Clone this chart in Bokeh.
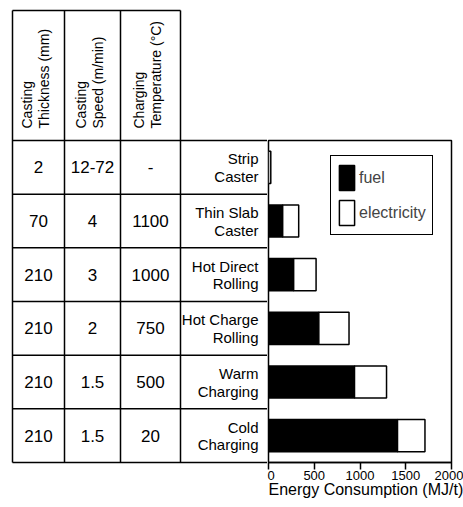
import math
from bokeh.plotting import figure
from bokeh.layouts import row
from bokeh.models import Range1d, FactorRange, FixedTicker, Legend, LegendItem, ColumnDataSource, Title
from bokeh.core.properties import value
from bokeh.embed import file_html
from bokeh.resources import INLINE

# ---------------- data ----------------
processes = ["Strip Caster", "Thin Slab Caster", "Hot Direct Rolling",
             "Hot Charge Rolling", "Warm Charging", "Cold Charging"]
process_line1 = ["Strip", "Thin Slab", "Hot Direct", "Hot Charge", "Warm", "Cold"]
process_line2 = ["Caster", "Caster", "Rolling", "Rolling", "Charging", "Charging"]
thickness = ["2", "70", "210", "210", "210", "210"]
speed = ["12-72", "4", "3", "2", "1.5", "1.5"]
temperature = ["-", "1100", "1000", "750", "500", "20"]
fuel = [0, 155, 275, 550, 940, 1410]
electricity = [25, 175, 245, 330, 350, 300]
x_ticks = [0, 500, 1000, 1500, 2000]
header_line1 = ["Casting", "Casting", "Charging"]
header_line2 = ["Thickness (mm)", "Speed (m/min)", "Temperature (\u00b0C)"]
series_names = ["fuel", "electricity"]
x_label = "Energy Consumption (MJ/t)"

# ---------------- layout / style ----------------
FONT = "Liberation Sans"
W, H = 463, 507
TABLE_W = 267
FRAME_TOP, FRAME_BOT = 140, 462
TABLE_TOP = 10
COLS = [12, 64, 120, 180, 268]
LW = 1.5
n = len(processes)
row_h = (FRAME_BOT - FRAME_TOP) / n

# ---------------- table figure ----------------
t = figure(width=TABLE_W, height=H, x_range=Range1d(0, TABLE_W), y_range=Range1d(H, 0),
           x_axis_location=None, y_axis_location=None, output_backend="svg",
           toolbar_location=None, min_border=0, outline_line_color=None)
t.frame_align = False
t.xgrid.visible = False
t.ygrid.visible = False

x0s, y0s, x1s, y1s = [], [], [], []
x0s.append(COLS[0]); y0s.append(TABLE_TOP); x1s.append(COLS[3]); y1s.append(TABLE_TOP)
for k in range(n + 1):
    yy = FRAME_TOP + k * row_h
    x0s.append(COLS[0]); y0s.append(yy); x1s.append(COLS[4]); y1s.append(yy)
for cx in COLS[:4]:
    x0s.append(cx); y0s.append(TABLE_TOP); x1s.append(cx); y1s.append(FRAME_BOT)
t.segment(x0=x0s, y0=y0s, x1=x1s, y1=y1s, line_color="black", line_width=LW)

centers = [(COLS[i] + COLS[i + 1]) / 2 for i in range(4)]
row_c = [FRAME_TOP + (i + 0.5) * row_h for i in range(n)]

cell_x, cell_y, cell_t = [], [], []
for j, col in enumerate([thickness, speed, temperature]):
    for i, v in enumerate(col):
        cell_x.append(centers[j]); cell_y.append(row_c[i]); cell_t.append(v)
t.text(x=cell_x, y=cell_y, text=cell_t, text_font=value(FONT), text_font_size="17px",
       text_align="center", text_baseline="middle", text_color="black")

lab_x = COLS[4] - 10
t.text(x=[lab_x] * n, y=[c - 8.5 for c in row_c], text=process_line1, text_font=value(FONT),
       text_font_size="15px", text_align="right", text_baseline="middle", text_color="black")
t.text(x=[lab_x] * n, y=[c + 9 for c in row_c], text=process_line2, text_font=value(FONT),
       text_font_size="15px", text_align="right", text_baseline="middle", text_color="black")

hx1 = [centers[j] - 12 for j in range(3)]
hx2 = [centers[j] + 5 for j in range(3)]
t.text(x=hx1, y=[128] * 3, text=header_line1, angle=math.pi / 2, text_font=value(FONT),
       text_font_size="14px", text_align="left", text_baseline="middle", text_color="black")
t.text(x=hx2, y=[128] * 3, text=header_line2, angle=math.pi / 2, text_font=value(FONT),
       text_font_size="14px", text_align="left", text_baseline="middle", text_color="black")

# ---------------- bar figure ----------------
p = figure(width=W - TABLE_W, height=H, x_range=Range1d(0, 2000),
           y_range=FactorRange(factors=list(reversed(processes))),
           y_axis_location=None, output_backend="svg", toolbar_location=None,
           min_border_left=1, min_border_right=12, min_border_top=FRAME_TOP,
           min_border_bottom=H - FRAME_BOT)
p.frame_align = False
p.xgrid.visible = False
p.ygrid.visible = False
p.outline_line_color = "black"
p.outline_line_width = LW
p.outline_line_alpha = 1.0

source = ColumnDataSource(dict(process=processes, fuel=fuel, electricity=electricity))
rs = p.hbar_stack(series_names, y="process", height=0.6, fill_color=["black", "white"],
                  line_color="black", line_width=LW, source=source)

legend = Legend(items=[LegendItem(label=series_names[0], renderers=[rs[0]]),
                       LegendItem(label=series_names[1], renderers=[rs[1]])],
                location=(62, 227), orientation="vertical")
legend.border_line_color = "black"
legend.border_line_width = LW
legend.border_line_alpha = 1.0
legend.background_fill_alpha = 1.0
legend.label_text_font = FONT
legend.label_text_font_size = "16px"
legend.glyph_width = 19
legend.glyph_height = 31
legend.label_standoff = 3
legend.spacing = 4
legend.padding = 6
legend.margin = 0
p.add_layout(legend)

ax = p.xaxis[0]
ax.ticker = FixedTicker(ticks=x_ticks)
ax.major_tick_out = 7
ax.major_tick_in = 0
ax.minor_tick_line_color = None
ax.axis_line_width = LW
ax.major_tick_line_width = LW
ax.major_label_text_font = FONT
ax.major_label_text_font_size = "13px"
ax.major_label_text_color = "black"
ax.major_label_standoff = 1

xt = Title(text=x_label, align="left", offset=0, standoff=0, text_font=FONT,
           text_font_size="16px", text_font_style="normal", text_color="black")
try:
    xt.standoff = -7
except Exception:
    pass
p.add_layout(xt, "below")

layout = row(t, p)
open("out.html", "w").write(file_html(layout, INLINE))
